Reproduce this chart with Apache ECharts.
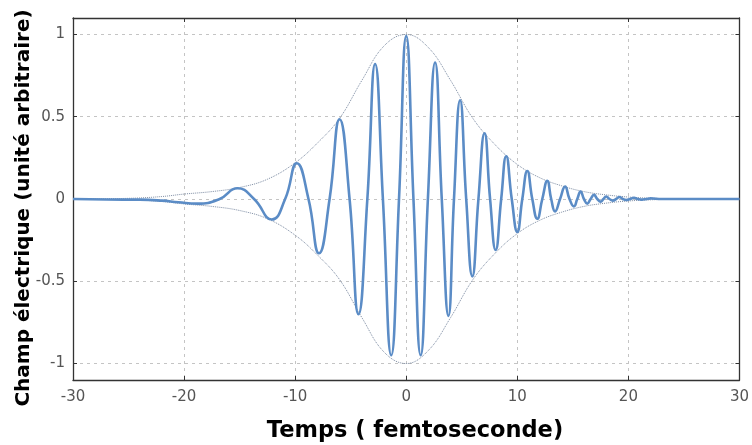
<!DOCTYPE html>
<html lang="fr">

<head>
  <meta charset="UTF-8">
  <title>Champ électrique</title>
  <style>
    html, body {
      margin: 0;
      padding: 0;
      background: #fff;
    }

    #chart {
      width: 752px;
      height: 445px;
    }
  </style>
  <script src="https://cdn.jsdelivr.net/npm/echarts@6/dist/echarts.min.js"></script>
</head>

<body>
  <div id="chart"></div>
  <script>
    // temps (fs) : extrema et passages par zero
    var tempsFs = [-30, -27, -24, -22, -20.5, -18.8, -16.8, -15.2, -13.7, -12.1, -10.9, -9.85, -8.8, -7.85,
      -6.9, -6.0, -5.1, -4.3, -3.5, -2.8, -2.1, -1.35, -0.65, 0, 0.65, 1.3, 1.95, 2.6, 3.2, 3.8, 4.3,
      4.85, 5.4, 5.95, 6.5, 7.05, 7.55, 8.05, 8.55, 9.0, 9.5, 10.0, 10.45, 10.9, 11.35, 11.8, 12.25,
      12.7, 13.05, 13.4, 13.85, 14.3, 14.7, 15.1, 15.4, 15.7, 16.0, 16.3, 16.6, 16.9, 17.2, 17.5, 17.75,
      18.0, 18.3, 18.6, 18.9, 19.2, 19.5, 19.8, 20.15, 20.5, 20.85, 21.2, 21.6, 22.0, 23, 26, 30];
    var champ = [0, -0.003, -0.004, -0.01, -0.02, -0.028, 0, 0.065, 0, -0.125, 0, 0.217, 0, -0.33,
      0, 0.485, 0, -0.70, 0, 0.82, 0, -0.95, 0, 0.99, 0, -0.95, 0, 0.83, 0, -0.71, 0,
      0.60, 0, -0.47, 0, 0.40, 0, -0.31, 0, 0.26, 0, -0.20, 0, 0.17, 0, -0.12, 0,
      0.11, 0, -0.075, 0, 0.075, 0, -0.045, 0, 0.045, 0, -0.028, 0, 0.025, 0, -0.016, 0,
      0.015, 0, -0.01, 0, 0.012, 0, -0.006, 0, 0.008, 0, -0.004, 0, 0.004, 0, 0, 0];

    // enveloppe (pointillés)
    var envTemps = [-30, -25, -22, -20, -17.5, -15, -12.5, -10, -8, -6, -4, -2, 0, 2, 4, 6, 8, 10, 12, 14,
      16, 18, 20, 22, 25, 30];
    var envAmp = [0, 0.004, 0.015, 0.03, 0.045, 0.07, 0.12, 0.22, 0.34, 0.49, 0.72, 0.93, 1.0, 0.92, 0.72,
      0.49, 0.33, 0.21, 0.13, 0.08, 0.045, 0.025, 0.012, 0.005, 0, 0];

    var xTicks = [-30, -20, -10, 0, 10, 20, 30];

    function pairs(xs, ys, sign) {
      return xs.map(function (x, i) {
        return [x, ys[i] * sign];
      });
    }

    var chart = echarts.init(document.getElementById('chart'));

    var gridLine = {
      show: true,
      lineStyle: { color: '#c4c4c4', type: [3, 4], width: 1 }
    };
    var frame = { show: true, onZero: false, lineStyle: { color: '#333', width: 1.3 } };
    var tick = { show: true, inside: true, length: 4, lineStyle: { color: '#333' } };
    var labelStyle = { color: '#555', fontSize: 15, fontFamily: 'DejaVu Sans' };
    var titleStyle = { fill: '#000', fontWeight: 'bold', fontFamily: 'DejaVu Sans', textAlign: 'center', textVerticalAlign: 'middle' };

    var option = {
      backgroundColor: '#fff',
      animation: false,
      grid: { left: 73, right: 8, top: 18, bottom: 65 },
      graphic: [{
        type: 'text',
        x: 415,
        y: 431,
        style: Object.assign({ text: 'Temps ( femtoseconde)', fontSize: 22.5 }, titleStyle)
      }, {
        type: 'text',
        x: 24,
        y: 208,
        rotation: Math.PI / 2,
        style: Object.assign({ text: 'Champ électrique (unité arbitraire)', fontSize: 20 }, titleStyle)
      }],
      xAxis: [{
        type: 'value',
        position: 'bottom',
        min: xTicks[0],
        max: xTicks[xTicks.length - 1],
        interval: 10,
        axisLine: frame,
        axisTick: tick,
        splitLine: gridLine,
        axisLabel: Object.assign({ margin: 10 }, labelStyle)
      }, {
        type: 'value',
        position: 'top',
        min: xTicks[0],
        max: xTicks[xTicks.length - 1],
        interval: 10,
        axisLine: frame,
        axisTick: tick,
        splitLine: { show: false },
        axisLabel: { show: false }
      }],
      yAxis: [{
        type: 'value',
        position: 'left',
        min: -1.1,
        max: 1.1,
        splitNumber: 4,
        axisLine: frame,
        axisTick: tick,
        splitLine: gridLine,
        axisLabel: Object.assign({
          margin: 8,
          showMinLabel: false,
          showMaxLabel: false,
          formatter: function (v) {
            return Math.abs(v) > 1.05 ? '' : String(v);
          }
        }, labelStyle)
      }, {
        type: 'value',
        position: 'right',
        min: -1.1,
        max: 1.1,
        splitNumber: 4,
        axisLine: frame,
        axisTick: tick,
        splitLine: { show: false },
        axisLabel: { show: false }
      }],
      series: [{
        type: 'line',
        name: 'enveloppe +',
        data: pairs(envTemps, envAmp, 1),
        smooth: 0.4,
        showSymbol: false,
        silent: true,
        lineStyle: { color: '#7d8ca3', width: 1, type: 'dotted' }
      }, {
        type: 'line',
        name: 'enveloppe -',
        data: pairs(envTemps, envAmp, -1),
        smooth: 0.4,
        showSymbol: false,
        silent: true,
        lineStyle: { color: '#7d8ca3', width: 1, type: 'dotted' }
      }, {
        type: 'line',
        name: 'champ',
        data: pairs(tempsFs, champ, 1),
        smooth: 0.5,
        showSymbol: false,
        lineStyle: { color: '#5b8cc6', width: 2.6 }
      }]
    };

    chart.setOption(option);
  </script>
</body>

</html>
